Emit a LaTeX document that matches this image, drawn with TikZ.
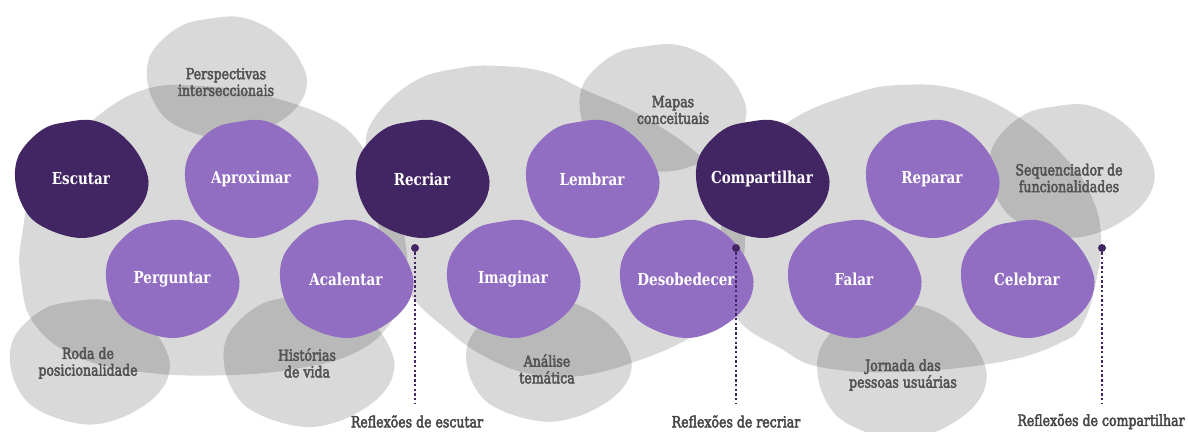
\documentclass[tikz,border=0pt]{standalone}
\usepackage{fontspec}
\newfontfamily\slab[FakeStretch=0.82]{DejaVu Serif}
\newfontfamily\slabmed[FakeStretch=0.82,FakeBold=3]{DejaVu Serif}
\definecolor{plumdark}{RGB}{65,38,99}
\definecolor{plumlight}{RGB}{146,110,194}
\definecolor{labelgray}{RGB}{82,82,82}
\definecolor{notegray}{RGB}{70,70,70}
% outline of one rounded blob, centred on the origin (y grows downward)
\newcommand\blobpath{plot[smooth cycle, tension=0.6] coordinates {(-14,-57) (9,-59) (29,-52) (46,-39) (59,-22) (67,-2) (66,14) (59,28) (46,41) (26,53) (2,59) (-24,54) (-48,41) (-61,21) (-66,-2) (-63,-22) (-51,-39) (-34,-52)}}
% gray blob: centre x, centre y, x scale, y scale
\newcommand\gblob[4]{\begin{scope}[shift={(#1,#2)},xscale=#3,yscale=#4]\fill[shadefill] \blobpath;\end{scope}}
% coloured step blob: name, centre x, centre y, colour, text
\newcommand\pblob[5]{\begin{scope}[shift={(#2,#3)}]\fill[#4] \blobpath;\end{scope}\node[ptext] (#1) at (#2,#3) {#5};}
\begin{document}
\begin{tikzpicture}[x=1pt,y=-1pt,
  shadefill/.style={fill=black,fill opacity=0.15},
  ptext/.style={text=white,font=\slab\bfseries\fontsize{16.5}{18}\selectfont,inner sep=0pt},
  gtext/.style={text=labelgray,align=center,font=\slabmed\fontsize{15.3}{16.7}\selectfont,inner sep=0pt},
  ntext/.style={text=notegray,font=\slabmed\fontsize{15.3}{16}\selectfont,inner sep=0pt},
  pin/.style={circle,fill=plumdark,minimum size=8pt,inner sep=0pt},
  trail/.style={plumdark,line width=1.6pt,dash pattern=on 2.4pt off 2.3pt}]
\useasboundingbox (0,0) rectangle (1188,431);

% three large groups
\fill[shadefill] plot[smooth cycle, tension=0.7] coordinates {(90,122) (143,90) (200,86) (267,96) (333,120) (365,150) (390,190) (405,240) (405,290) (385,330) (350,355) (300,368) (233,375) (150,373) (80,358) (35,325) (21,280) (22,235) (40,170)};
\fill[shadefill] plot[smooth cycle, tension=0.7] coordinates {(373,120) (413,82) (460,68) (500,66) (545,72) (585,90) (640,115) (697,153) (735,195) (745,240) (735,290) (715,320) (690,338) (640,360) (580,376) (530,374) (482,355) (445,328) (413,298) (390,260) (372,200) (366,155)};
\fill[shadefill] plot[smooth cycle, tension=0.7] coordinates {(787,123) (850,95) (900,85) (960,90) (1020,118) (1070,163) (1093,200) (1101,237) (1097,277) (1083,323) (1060,343) (1000,362) (900,372) (820,367) (780,348) (740,322) (725,285) (720,240) (735,175)};

% method blobs
\gblob{226}{78}{1.2}{1.04}
\gblob{89}{362}{1.2}{1.06}
\gblob{308}{361}{1.28}{1.12}
\gblob{662}{108}{1.25}{1.08}
\gblob{548}{361}{1.24}{1.03}
\gblob{1071}{171}{1.24}{1.13}
\gblob{901}{372}{1.27}{1.14}

\node[gtext] (persp) at (226,82) {Perspectivas\\interseccionais};
\node[gtext] (roda) at (88,363) {Roda de\\posicionalidade};
\node[gtext] (hist) at (307,363) {Histórias\\de vida};
\node[gtext] (mapas) at (673,110) {Mapas\\conceituais};
\node[gtext] (analise) at (547,369) {Análise\\temática};
\node[gtext] (seq) at (1069,178) {Sequenciador de\\funcionalidades};
\node[gtext] (jornada) at (903,375) {Jornada das\\pessoas usuárias};

% steps
\pblob{escutar}{81}{179}{plumdark}{Escutar}
\pblob{aproximar}{251}{179}{plumlight}{Aproximar}
\pblob{recriar}{422}{179}{plumdark}{Recriar}
\pblob{lembrar}{592}{179}{plumlight}{Lembrar}
\pblob{compartilhar}{762}{179}{plumdark}{Compartilhar}
\pblob{reparar}{932}{179}{plumlight}{Reparar}
\pblob{perguntar}{172}{279}{plumlight}{Perguntar}
\pblob{acalentar}{346}{279}{plumlight}{Acalentar}
\pblob{imaginar}{513}{279}{plumlight}{Imaginar}
\pblob{desobedecer}{686}{279}{plumlight}{Desobedecer}
\pblob{falar}{854}{279}{plumlight}{Falar}
\pblob{celebrar}{1027}{279}{plumlight}{Celebrar}

% reflection markers
\node[pin] (p1) at (415,248) {};
\node[pin] (p2) at (736,248) {};
\node[pin] (p3) at (1102,248) {};
\coordinate (e1) at (415,404);
\coordinate (e2) at (736,404);
\coordinate (e3) at (1102,404);
\draw[trail] (p1) -- (e1);
\draw[trail] (p2) -- (e2);
\draw[trail] (p3) -- (e3);
\node[ntext] (r1) at (417,421.5) {Reflexões de escutar};
\node[ntext] (r2) at (736,421.5) {Reflexões de recriar};
\node[ntext] (r3) at (1101,421.5) {Reflexões de compartilhar};
\end{tikzpicture}
\end{document}
